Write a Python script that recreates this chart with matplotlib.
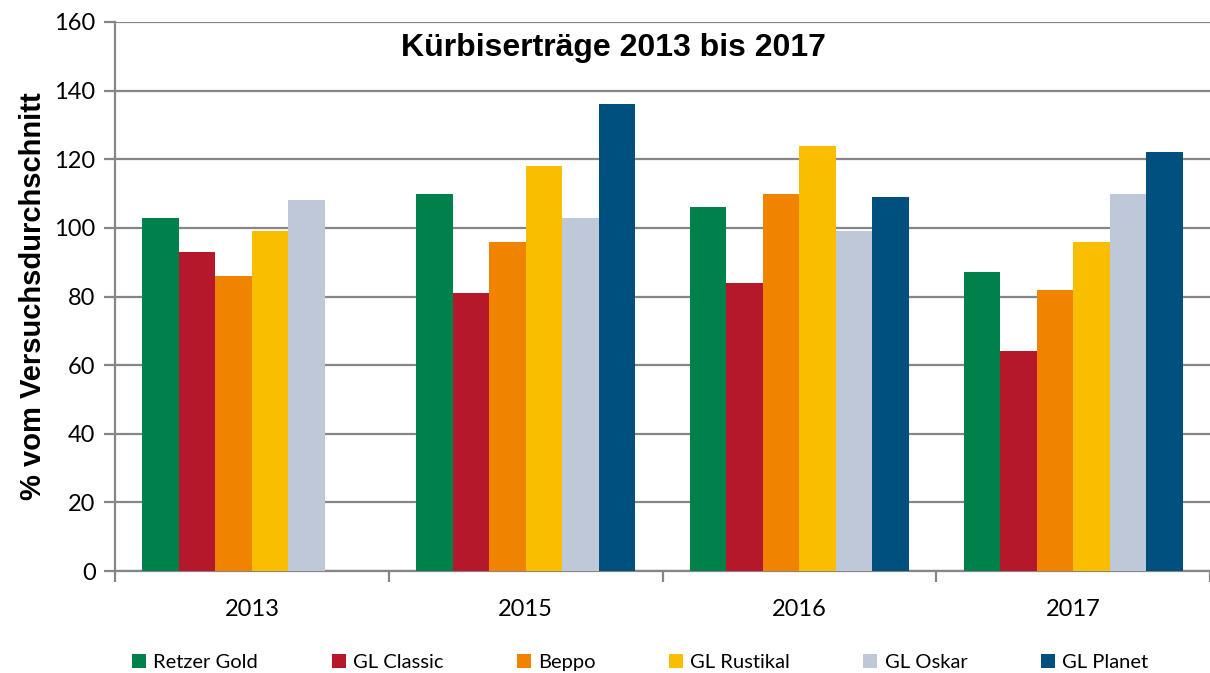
import numpy as np
import matplotlib
matplotlib.use('Agg')
import matplotlib.pyplot as plt
from matplotlib.patches import Patch

years = ['2013', '2015', '2016', '2017']
varieties = ['Retzer Gold', 'GL Classic', 'Beppo', 'GL Rustikal', 'GL Oskar', 'GL Planet']
retzer_gold = [103, 110, 106, 87]
gl_classic = [93, 81, 84, 64]
beppo = [86, 96, 110, 82]
gl_rustikal = [99, 118, 124, 96]
gl_oskar = [108, 103, 99, 110]
gl_planet = [0, 136, 109, 122]

series = [retzer_gold, gl_classic, beppo, gl_rustikal, gl_oskar, gl_planet]
colors = ['#00804A', '#B5182B', '#F08400', '#F9BE00', '#BFC8D8', '#00507F']

fig = plt.figure(figsize=(12.1, 6.73), dpi=100)
ax = fig.add_axes([115 / 1210, 102 / 673, 1095 / 1210, 549 / 673])

n = len(varieties)
bw = 1 / (n + 1.5)
x = np.arange(len(years))
for i, (vals, col) in enumerate(zip(series, colors)):
    offs = (i - (n - 1) / 2) * bw
    ax.bar(x + offs, vals, width=bw, color=col, edgecolor='none', zorder=3)

grid_col = '#868686'
ax.set_ylim(0, 160)
ax.set_xlim(-0.5, len(years) - 0.5)
ax.set_yticks(np.arange(0, 161, 20))
ax.yaxis.grid(True, color=grid_col, lw=1.6, zorder=0)
ax.set_axisbelow(True)

ax.set_xticks(x)
ax.set_xticklabels(years)
ax.set_xticks(np.arange(-0.5, len(years)), minor=True)
ax.tick_params(axis='x', which='major', length=0, pad=20, labelsize=17)
ax.tick_params(axis='x', which='minor', length=8, width=1.6, color=grid_col)
ax.tick_params(axis='y', length=8, width=1.6, color=grid_col, labelsize=17, pad=6)
for lbl in ax.get_xticklabels() + ax.get_yticklabels():
    lbl.set_family('Lato')

for s in ['top', 'right']:
    ax.spines[s].set_visible(False)
for s in ['left', 'bottom']:
    ax.spines[s].set_color(grid_col)
    ax.spines[s].set_linewidth(1.6)

ax.set_ylabel('% vom Versuchsdurchschnitt', fontsize=21, fontweight='bold',
              family='Liberation Sans', labelpad=5)
ax.text(0.455, 0.953, 'Kürbiserträge 2013 bis 2017', transform=ax.transAxes,
        ha='center', va='center', fontsize=23, fontweight='bold', family='Liberation Sans')

handles = [Patch(facecolor=c, edgecolor='none') for c in colors]
leg = fig.legend(handles, varieties, loc='center', bbox_to_anchor=(0.529, 0.016),
                 ncol=6, frameon=False, handlelength=0.7, handleheight=0.7,
                 handletextpad=0.35, columnspacing=3.65,
                 prop={'family': 'Lato', 'size': 14.5})

plt.savefig('out.png', dpi=100)
plt.close()
